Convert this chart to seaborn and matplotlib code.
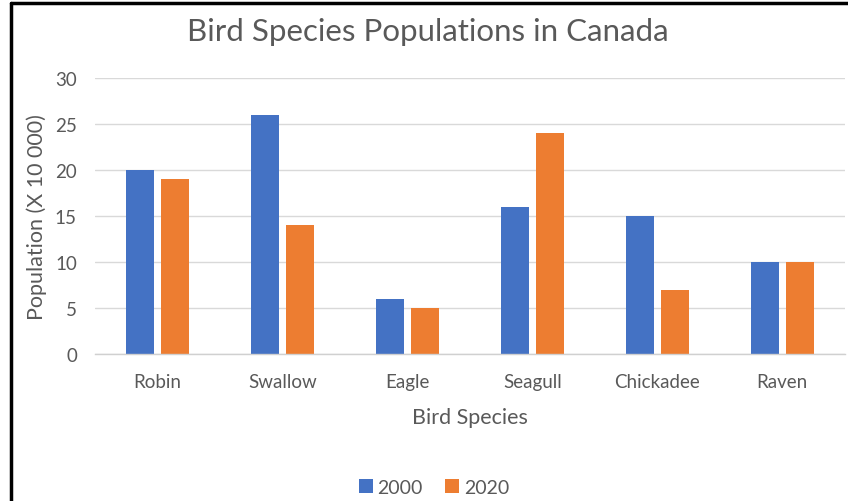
import pandas as pd
import matplotlib.pyplot as plt
import seaborn as sns
from matplotlib.lines import Line2D

species = ["Robin", "Swallow", "Eagle", "Seagull", "Chickadee", "Raven"]
years = ["2000", "2020"]
pop_2000 = [20, 26, 6, 16, 15, 10]
pop_2020 = [19, 14, 5, 24, 7, 10]

df = pd.DataFrame({
    "species": species * 2,
    "year": [years[0]] * len(species) + [years[1]] * len(species),
    "population": pop_2000 + pop_2020,
})

sns.set_theme(style="white")
plt.rcParams["font.family"] = ["Lato", "DejaVu Sans"]
text_color = "#595959"
colors = ["#4472C4", "#ED7D31"]

fig = plt.figure(figsize=(8.48, 5.02), dpi=100)
ax = fig.add_axes([0.112, 0.2928, 0.884, 0.5498])

sns.barplot(
    data=df, x="species", y="population", hue="year",
    palette=colors, saturation=1, width=0.56, gap=0.2,
    linewidth=0, ax=ax, legend=False,
)

ax.set_ylim(0, 30)
ax.set_xlim(-0.5, 5.5)
ax.set_yticks(range(0, 31, 5))
ax.yaxis.grid(True, color="#D9D9D9", linewidth=1)
ax.set_axisbelow(True)
for side in ["top", "right", "left"]:
    ax.spines[side].set_visible(False)
ax.spines["bottom"].set_color("#D0D0D0")
ax.spines["bottom"].set_linewidth(1)
ax.tick_params(axis="both", length=0, labelsize=13.5, colors=text_color)
ax.tick_params(axis="y", pad=13)
ax.tick_params(axis="x", pad=14)

ax.set_xlabel("Bird Species", fontsize=15.5, color=text_color, labelpad=12)
ax.set_ylabel("Population (X 10 000)", fontsize=15.5, color=text_color, labelpad=6)
fig.suptitle("Bird Species Populations in Canada", x=0.505, y=0.965,
             fontsize=22.5, color=text_color)

handles = [
    Line2D([], [], marker="s", linestyle="none", markersize=10,
           markerfacecolor=c, markeredgewidth=0)
    for c in colors
]
leg = fig.legend(handles, years, loc="lower center", bbox_to_anchor=(0.51, -0.024),
                 ncol=2, frameon=False, fontsize=14, handletextpad=0.1,
                 columnspacing=1.0, handlelength=1.0)
for t in leg.get_texts():
    t.set_color(text_color)

# frame around the chart (top and left only, as in the screenshot)
fig.add_artist(Line2D([0.013, 0.013], [0, 0.993], transform=fig.transFigure,
                      color="black", linewidth=2.5))
fig.add_artist(Line2D([0.013, 1.0], [0.993, 0.993], transform=fig.transFigure,
                      color="black", linewidth=2.5))

fig.savefig("out.png", dpi=100)
